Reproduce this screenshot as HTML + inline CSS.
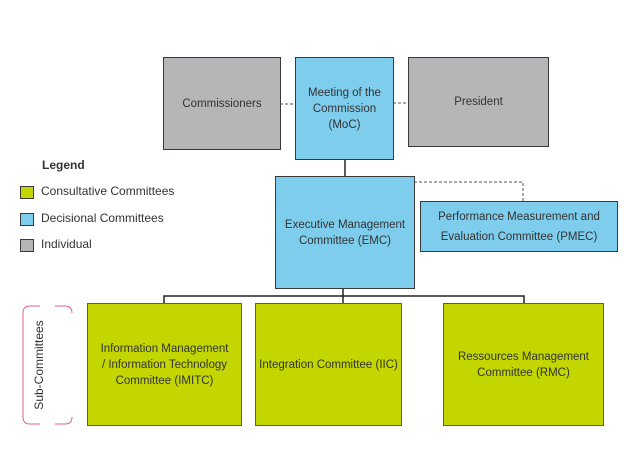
<!DOCTYPE html>
<html><head><style>
body{margin:0;width:624px;height:449px;background:#fff;position:relative;overflow:hidden;font-family:"Liberation Sans",sans-serif;color:#333}
.b{position:absolute;box-sizing:border-box;border:1.5px solid #3a3a3a;display:flex;align-items:center;justify-content:center;text-align:center;font-size:11.5px;line-height:16px}
.g{background:#b4b6b8}.u{background:#7fcdec}.y{background:#c4d600;border-color:#5c6a10}
.l{position:absolute;font-size:12px}
.sq{position:absolute;left:20px;width:12px;height:11px;border:1.5px solid #3a3a3a}
</style></head><body>
<svg width="624" height="449" style="position:absolute;left:0;top:0">
<g stroke="#555" stroke-dasharray="3,2" fill="none" stroke-width="1">
<line x1="280" y1="104" x2="295" y2="104"/><line x1="393" y1="103" x2="408" y2="103"/>
<polyline points="414,182 523,182 523,201"/></g>
<g stroke="#222" stroke-width="1.5" fill="none">
<line x1="345" y1="160" x2="345" y2="176"/>
<line x1="343" y1="288" x2="343" y2="296"/>
<polyline points="164,304 164,296 524,296 524,304"/>
<line x1="343" y1="296" x2="343" y2="304"/></g>
<path d="M40,306 H30 Q23,306 23,313 V417 Q23,424 30,424 H40 M55,306 H65 Q72,306 72,313 M72,417 Q72,424 65,424 H55" stroke="#e0608a" stroke-width="1" fill="none"/>
<text x="43" y="365" transform="rotate(-90 43 365)" text-anchor="middle" font-size="12" fill="#333" font-family="Liberation Sans">Sub-Committees</text>
</svg>
<div class="b g" style="left:163px;top:57px;width:118px;height:93px">Commissioners</div>
<div class="b u" style="left:295px;top:57px;width:99px;height:103px">Meeting of the<br>Commission<br>(MoC)</div>
<div class="b g" style="left:408px;top:57px;width:141px;height:90px">President</div>
<div class="b u" style="left:275px;top:176px;width:140px;height:113px">Executive Management<br>Committee (EMC)</div>
<div class="b u" style="left:420px;top:201px;width:198px;height:51px;line-height:20px">Performance Measurement and<br>Evaluation Committee (PMEC)</div>
<div class="b y" style="left:87px;top:303px;width:155px;height:123px">Information Management<br>/ Information Technology<br>Committee (IMITC)</div>
<div class="b y" style="left:255px;top:303px;width:147px;height:123px">Integration Committee (IIC)</div>
<div class="b y" style="left:443px;top:303px;width:161px;height:123px">Ressources Management<br>Committee (RMC)</div>
<div class="l" style="left:42px;top:158px;font-weight:bold">Legend</div>
<div class="sq" style="top:186px;background:#c4d600"></div><div class="l" style="left:41px;top:184px">Consultative Committees</div>
<div class="sq" style="top:213px;background:#7fcdec"></div><div class="l" style="left:41px;top:211px">Decisional Committees</div>
<div class="sq" style="top:239px;background:#b4b6b8"></div><div class="l" style="left:41px;top:237px">Individual</div>
</body></html>
